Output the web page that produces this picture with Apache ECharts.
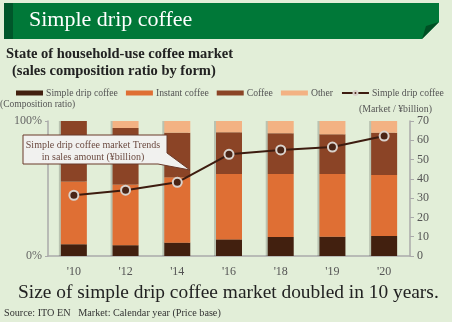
<!DOCTYPE html>
<html><head><meta charset="utf-8">
<script src="https://cdn.jsdelivr.net/npm/echarts@6/dist/echarts.min.js"></script>
<style>html,body{margin:0;padding:0;background:#fff}#c{width:452px;height:328px}</style>
</head><body><div id="c"></div>
<script>
var categories = ["'10","'12","'14","'16","'18","'19","'20"];
var simpleDrip = [8.7, 8.0, 9.9, 12.3, 14.1, 14.3, 14.8];
var instant = [46.4, 45.0, 48.4, 48.4, 46.7, 46.4, 45.2];
var coffee = [44.9, 41.8, 33.0, 30.9, 30.1, 29.4, 31.3];
var other = [0, 5.2, 8.7, 8.4, 9.1, 9.9, 8.7];
var marketSize = [31.5, 34.1, 38.2, 52.7, 55.0, 56.5, 62.2];
var leftTicks = {0: '0%', 100: '100%'};

var SERIF = "'Liberation Serif','DejaVu Serif',serif";
var chart = echarts.init(document.getElementById('c'), null, {renderer: 'canvas'});
var barShadow = {shadowColor: 'rgba(0,0,0,0.18)', shadowOffsetX: -2, shadowBlur: 0};
function bar(name, data, color) {
  return {name: name, type: 'bar', stack: 's', data: data, barWidth: 26,
    itemStyle: Object.assign({color: color}, barShadow)};
}
chart.setOption({
  backgroundColor: '#ffffff',
  animation: false,
  textStyle: {fontFamily: SERIF},
  legend: {
    left: 16, top: 88, itemWidth: 27, itemHeight: 5, itemGap: 8, padding: 0,
    textStyle: {fontSize: 9.7, color: '#555', fontFamily: SERIF, padding: [0, 0, 0, -2]},
    data: [
      {name: 'Simple drip coffee', icon: 'rect'},
      {name: 'Instant coffee', icon: 'rect'},
      {name: 'Coffee', icon: 'rect'},
      {name: 'Other', icon: 'rect'},
      {name: 'Simple drip coffee '}
    ]
  },
  grid: {left: 48, right: 42, top: 121, bottom: 72},
  xAxis: {
    type: 'category', data: categories,
    axisLine: {lineStyle: {color: '#aaa', width: 1.5}},
    axisTick: {show: false},
    axisLabel: {fontSize: 12, color: '#555', margin: 10, fontFamily: SERIF}
  },
  yAxis: [
    {type: 'value', min: 0, max: 100, interval: 100, splitLine: {show: false},
     axisLine: {show: true, lineStyle: {color: '#aaa', width: 1.5}},
     axisTick: {show: true, length: 3, lineStyle: {color: '#aaa'}},
     axisLabel: {fontSize: 12, color: '#666', margin: 6, fontFamily: SERIF,
       formatter: function (v) { return leftTicks[v] || ''; }}},
    {type: 'value', min: 0, max: 70, interval: 10, position: 'right', splitLine: {show: false},
     axisLine: {show: true, lineStyle: {color: '#aaa', width: 1.5}},
     axisTick: {show: true, length: 4, lineStyle: {color: '#aaa'}},
     axisLabel: {fontSize: 12, color: '#555', margin: 7, fontFamily: SERIF}}
  ],
  series: [
    bar('Simple drip coffee', simpleDrip, '#42200f'),
    bar('Instant coffee', instant, '#df6f34'),
    bar('Coffee', coffee, '#8b4426'),
    bar('Other', other, '#f3b283'),
    {name: 'Simple drip coffee ', type: 'line', yAxisIndex: 1, data: marketSize,
     symbol: 'circle', symbolSize: 9, z: 5,
     lineStyle: {color: '#3d1c10', width: 2},
     itemStyle: {color: '#4a2516', borderColor: '#d9d2cc', borderWidth: 2}}
  ],
  graphic: [
    {type: 'rect', z: -10, shape: {x: 0, y: 0, width: 452, height: 322}, style: {fill: '#e2eed8'}},
    {type: 'polygon', z: 10, shape: {points: [[13,3],[439,3],[439,22],[422,39],[13,39]]}, style: {fill: '#007838'}},
    {type: 'polygon', z: 11, shape: {points: [[439,22],[422,39],[426,26]]}, style: {fill: '#004f24'}},
    {type: 'rect', z: 11, shape: {x: 4, y: 3, width: 9, height: 36}, style: {fill: '#00562a'}},
    {type: 'text', z: 12, left: 29, top: 9, style: {text: 'Simple drip coffee', fill: '#fff', font: '22px ' + SERIF}},
    {type: 'text', z: 12, left: 6, top: 47, style: {text: 'State of household-use coffee market', fill: '#222', font: 'bold 14.5px ' + SERIF}},
    {type: 'text', z: 12, left: 12, top: 64, style: {text: '(sales composition ratio by form)', fill: '#222', font: 'bold 14.5px ' + SERIF}},
    {type: 'text', z: 12, left: 0, top: 99, style: {text: '(Composition ratio)', fill: '#555', font: '9.5px ' + SERIF}},
    {type: 'text', z: 12, left: 359, top: 104, style: {text: '(Market / \u00a5billion)', fill: '#555', font: '9.8px ' + SERIF}},
    {type: 'polygon', z: 20, shape: {points: [[23,135],[167,135],[167,153],[190,170],[158,164],[23,164]]},
     style: {fill: '#f1f1ef', stroke: '#6b3a2a', lineWidth: 1}},
    {type: 'text', z: 21, x: 93, y: 145, style: {text: 'Simple drip coffee market Trends', fill: '#6b4a40', font: '10px ' + SERIF, textAlign: 'center', textVerticalAlign: 'middle'}},
    {type: 'text', z: 21, x: 93, y: 157, style: {text: 'in sales amount (\u00a5billion)', fill: '#6b4a40', font: '10px ' + SERIF, textAlign: 'center', textVerticalAlign: 'middle'}},
    {type: 'text', z: 12, left: 18, top: 283, style: {text: 'Size of simple drip coffee market doubled in 10 years.', fill: '#222', font: '19.4px ' + SERIF}},
    {type: 'text', z: 12, left: 4, top: 308, style: {text: 'Source: ITO EN   Market: Calendar year (Price base)', fill: '#333', font: '10.2px ' + SERIF}}
  ]
});
</script></body></html>
